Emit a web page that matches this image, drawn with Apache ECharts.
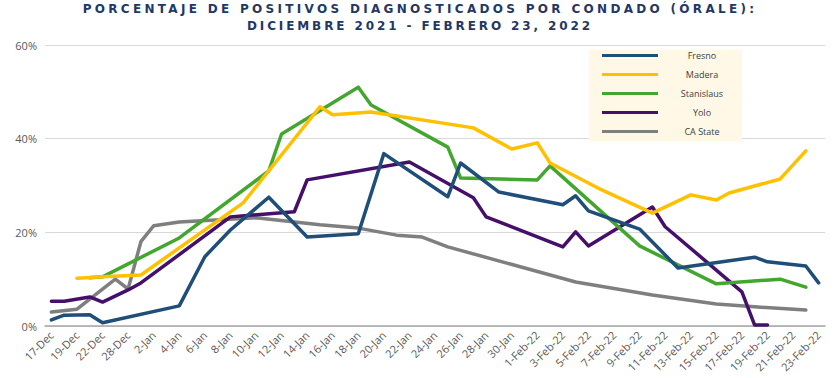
<!DOCTYPE html>
<html>
<head>
<meta charset="utf-8">
<script src="https://cdn.jsdelivr.net/npm/echarts@6/dist/echarts.min.js"></script>
<style>html,body{margin:0;padding:0;background:#fff}#c{width:840px;height:378px}</style>
</head>
<body>
<div id="c"></div>
<script>
var categories = ['17-Dec','18-Dec','19-Dec','21-Dec','22-Dec','27-Dec','28-Dec','31-Dec',
  '2-Jan','3-Jan','4-Jan','5-Jan','6-Jan','7-Jan','8-Jan','9-Jan','10-Jan','11-Jan','12-Jan','13-Jan',
  '14-Jan','15-Jan','16-Jan','17-Jan','18-Jan','19-Jan','20-Jan','21-Jan','22-Jan','23-Jan','24-Jan',
  '25-Jan','26-Jan','27-Jan','28-Jan','29-Jan','30-Jan','31-Jan',
  '1-Feb-22','2-Feb-22','3-Feb-22','4-Feb-22','5-Feb-22','6-Feb-22','7-Feb-22','8-Feb-22','9-Feb-22',
  '10-Feb-22','11-Feb-22','12-Feb-22','13-Feb-22','14-Feb-22','15-Feb-22','16-Feb-22','17-Feb-22',
  '18-Feb-22','19-Feb-22','20-Feb-22','21-Feb-22','22-Feb-22','23-Feb-22'];

var seriesNames = ['Fresno','Madera','Stanislaus','Yolo','CA State'];
var titleLines = ['PORCENTAJE DE POSITIVOS DIAGNOSTICADOS POR CONDADO (ÓRALE):', 'DICIEMBRE 2021 - FEBRERO 23, 2022'];

// sparse readings: [category index, percent]
var fresno = [[0,1.3],[1,2.3],[3,2.4],[4,0.7],[10,4.3],[12,14.8],[14,20.5],[17,27.5],[20,19.0],[24,19.7],
  [26,36.8],[31,27.6],[32,34.8],[35,28.6],[40,25.9],[41,27.8],[42,24.6],[46,20.7],[49,12.4],[54,14.3],
  [55,14.7],[56,13.7],[59,12.8],[60,9.2]];
var madera = [[2,10.2],[4,10.5],[7,10.9],[15,26.3],[21,46.8],[22,45.1],[25,45.7],[33,42.3],[36,37.8],
  [38,39.1],[39,34.8],[43,29.1],[47,24.1],[50,28.0],[52,26.9],[53,28.4],[57,31.4],[59,37.4]];
var stanislaus = [[3,10.3],[4,10.5],[10,18.8],[17,33.1],[18,41.0],[24,51.0],[25,47.2],[31,38.2],[32,31.6],
  [38,31.2],[39,34.2],[46,17.1],[52,9.0],[57,10.0],[59,8.3]];
var yolo = [[0,5.3],[1,5.3],[3,6.2],[4,5.1],[6,7.7],[7,9.2],[14,23.3],[19,24.4],[20,31.2],[28,35.0],
  [33,27.4],[34,23.3],[40,16.9],[41,20.1],[42,17.1],[47,25.4],[48,21.2],[54,7.3],[55,0.2],[56,0.2]];
var caState = [[0,3.0],[2,3.6],[5,10.0],[6,7.9],[7,18.0],[8,21.4],[10,22.2],[16,23.1],[21,21.6],[24,20.9],
  [27,19.4],[29,19.0],[31,16.9],[41,9.4],[47,6.6],[52,4.7],[55,4.1],[59,3.4]];

var yTicks = [0, 20, 40, 60];
var colors = ['#1F4E79','#FFC000','#43A62E','#44106A','#7F7F7F'];

function expand(pairs){
  var arr = categories.map(function(){ return null; });
  pairs.forEach(function(p){ arr[p[0]] = p[1]; });
  return arr;
}
var allData = [fresno, madera, stanislaus, yolo, caState];
var titleFont = 'bold 12px "DejaVu Sans"';
var titleTargetWidths = [675, 346];

var chart = echarts.init(document.getElementById('c'), null, { renderer: 'svg' });
chart.setOption({
  animation: false,
  title: {
    text: titleLines.join('\n'),
    left: 'center', top: 0, padding: 0,
    textStyle: { fontFamily: 'DejaVu Sans', fontSize: 12, fontWeight: 'bold', color: '#1F3864', lineHeight: 17, align: 'center' }
  },
  legend: {
    orient: 'vertical',
    left: 589, top: 50,
    width: 153,
    padding: [1, 1, 5, 13],
    itemGap: 10,
    itemWidth: 56, itemHeight: 3,
    icon: 'rect',
    backgroundColor: '#FFF8E6',
    data: seriesNames,
    formatter: function(n){ return '{c|' + n + '}'; },
    textStyle: { rich: { c: { width: 78, align: 'center', fontSize: 9, lineHeight: 12, color: '#404040', fontFamily: 'Open Sans' } } }
  },
  grid: { left: 45, right: 15, top: 45, bottom: 52, containLabel: false },
  xAxis: {
    type: 'category',
    data: categories,
    boundaryGap: true,
    axisLine: { lineStyle: { color: '#A6A6A6', width: 1.5 } },
    axisTick: { show: false },
    axisLabel: { interval: 1, rotate: 45, fontSize: 11, color: '#595959', margin: 7, fontFamily: 'Open Sans' }
  },
  yAxis: {
    type: 'value',
    min: yTicks[0], max: yTicks[yTicks.length-1], interval: 20,
    axisLine: { show: false },
    axisTick: { show: false },
    splitLine: { lineStyle: { color: '#D9D9D9', width: 1 } },
    axisLabel: { formatter: '{value}%', fontSize: 11, color: '#595959', margin: 8, fontFamily: 'Open Sans' }
  },
  series: seriesNames.map(function(n, i){
    return {
      name: n, type: 'line', data: expand(allData[i]), connectNulls: true,
      symbol: 'none', z: 10 - i,
      lineStyle: { color: colors[i], width: 3.5, cap: 'round', join: 'round' },
      itemStyle: { color: colors[i] }
    };
  })
});
// widen the title's letter spacing (as in the reference typography)
var ctx = document.createElement('canvas').getContext('2d');
ctx.font = titleFont;
Array.prototype.forEach.call(document.querySelectorAll('#c svg text, #c svg tspan'), function(el){
  var idx = titleLines.indexOf(el.textContent);
  if (idx >= 0) {
    var w = ctx.measureText(titleLines[idx]).width;
    var ls = (titleTargetWidths[idx] - w) / titleLines[idx].length;
    el.style.letterSpacing = ls.toFixed(2) + 'px';
  }
});
</script>
</body>
</html>
